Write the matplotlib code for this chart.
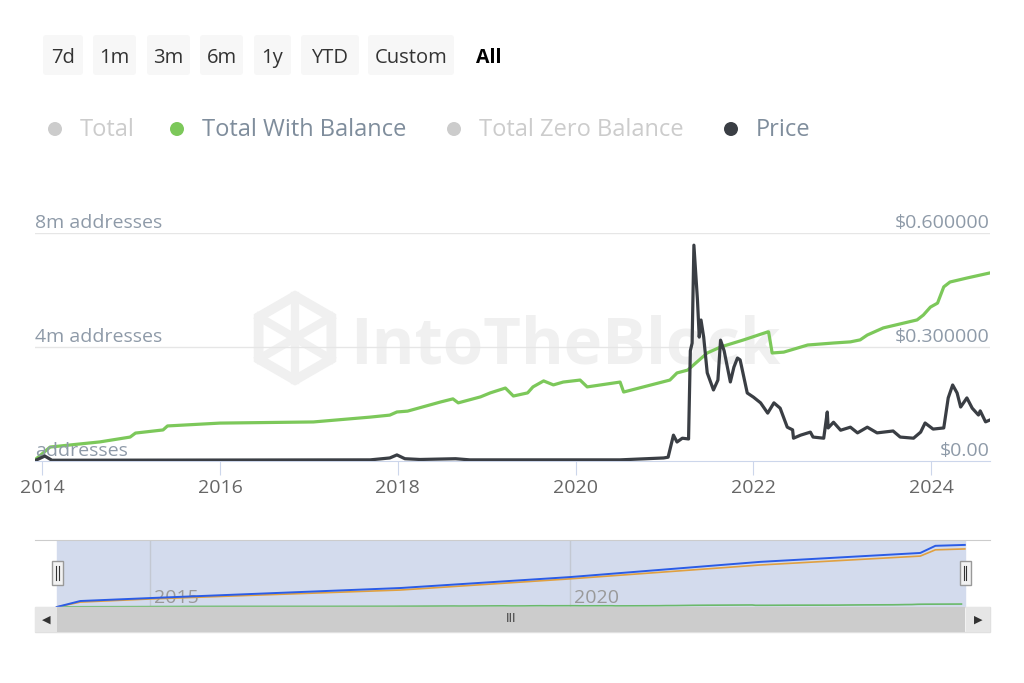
import matplotlib
matplotlib.use("Agg")
import matplotlib.pyplot as plt
from matplotlib.patches import FancyBboxPatch, Rectangle, RegularPolygon, Circle
from matplotlib.lines import Line2D

plt.rcParams['font.family'] = ['Open Sans', 'DejaVu Sans']

# donnees (annees decimales)
green_years = [2013.92, 2014.09, 2014.65, 2014.99, 2015.05, 2015.36, 2015.41, 2016.00, 2017.05,
               2017.69, 2017.91, 2017.99, 2018.11, 2018.48, 2018.62, 2018.68, 2018.93, 2019.04,
               2019.21, 2019.30, 2019.46, 2019.52, 2019.64, 2019.75, 2019.86, 2020.05, 2020.13,
               2020.50, 2020.54, 2021.06, 2021.14, 2021.26, 2021.48, 2021.63, 2021.89, 2022.16,
               2022.17, 2022.21, 2022.34, 2022.61, 2022.90, 2023.09, 2023.20, 2023.28, 2023.46,
               2023.84, 2023.91, 2023.99, 2024.07, 2024.14, 2024.21, 2024.40, 2024.66]
with_balance = [0.04, 0.49, 0.67, 0.84, 0.98, 1.09, 1.23, 1.33, 1.37,
                1.54, 1.61, 1.72, 1.75, 2.07, 2.18, 2.04, 2.25, 2.39,
                2.56, 2.28, 2.39, 2.60, 2.81, 2.67, 2.77, 2.84, 2.60,
                2.77, 2.42, 2.84, 3.09, 3.19, 3.79, 4.00, 4.25, 4.53,
                4.53, 3.79, 3.82, 4.07, 4.14, 4.18, 4.25, 4.42, 4.67,
                4.95, 5.12, 5.40, 5.54, 6.11, 6.28, 6.42, 6.60]

price_years = [2013.92, 2014.03, 2014.11, 2017.69, 2017.91, 2017.99, 2018.08, 2018.25, 2018.65,
               2018.81, 2020.50, 2020.99, 2021.04, 2021.10, 2021.14, 2021.20, 2021.27, 2021.29,
               2021.31, 2021.33, 2021.37, 2021.39, 2021.41, 2021.44, 2021.48, 2021.55, 2021.60,
               2021.63, 2021.67, 2021.74, 2021.78, 2021.82, 2021.85, 2021.93, 2022.00, 2022.08,
               2022.16, 2022.23, 2022.30, 2022.38, 2022.44, 2022.45, 2022.53, 2022.64, 2022.67,
               2022.79, 2022.83, 2022.84, 2022.90, 2022.98, 2023.09, 2023.17, 2023.28, 2023.39,
               2023.57, 2023.65, 2023.80, 2023.88, 2023.93, 2024.02, 2024.14, 2024.19, 2024.24,
               2024.29, 2024.33, 2024.40, 2024.46, 2024.53, 2024.55, 2024.61, 2024.66]
price = [0.001, 0.013, 0.002, 0.003, 0.008, 0.016, 0.006, 0.004, 0.006,
         0.003, 0.003, 0.008, 0.010, 0.068, 0.050, 0.060, 0.058, 0.290,
         0.310, 0.568, 0.424, 0.326, 0.371, 0.326, 0.232, 0.187, 0.213,
         0.318, 0.290, 0.208, 0.247, 0.271, 0.266, 0.179, 0.168, 0.153,
         0.126, 0.153, 0.139, 0.089, 0.082, 0.060, 0.068, 0.076, 0.063,
         0.060, 0.129, 0.087, 0.102, 0.081, 0.089, 0.074, 0.089, 0.074,
         0.079, 0.063, 0.060, 0.076, 0.100, 0.084, 0.087, 0.166, 0.200,
         0.179, 0.142, 0.166, 0.139, 0.121, 0.132, 0.103, 0.108]

# navigateur (en millions)
nav_years = [2013.89, 2014.17, 2015.0, 2017.98, 2020.0, 2022.26, 2024.17, 2024.35, 2024.70]
nav_total = [0, 13.4, 20, 42.5, 67, 101, 121, 137, 139]
nav_zero = [0, 11, 18, 38, 63, 94, 114, 128, 130]

x_ticks = [2014, 2016, 2018, 2020, 2022, 2024]
left_ticks = [0, 4, 8]
left_labels = ['addresses', '4m addresses', '8m addresses']
right_ticks = [0, 0.3, 0.6]
right_labels = ['$0.00', '$0.300000', '$0.600000']
buttons = ['7d', '1m', '3m', '6m', '1y', 'YTD', 'Custom']
legend_names = ['Total', 'Total With Balance', 'Total Zero Balance', 'Price']
legend_colors = ['#cccccc', '#7cc85a', '#cccccc', '#3a3e44']
legend_text_colors = ['#cccccc', '#7f8d9c', '#cccccc', '#7f8d9c']

W, H = 1024, 683
fig = plt.figure(figsize=(W / 100, H / 100), dpi=100)
px = fig.dpi_scale_trans


def P(x, y):
    return x / 100, (H - y) / 100


def F(x, y):
    return x / W, 1 - y / H


# boutons
bx = [(42, 84), (92, 137), (146, 191), (199, 244), (253, 292), (300, 360), (367, 455)]
for (a, b), lab in zip(bx, buttons):
    fig.add_artist(FancyBboxPatch(P(a + 1, 75), (b - a - 2) / 100, 0.40,
                                  boxstyle='round,pad=0,rounding_size=0.03',
                                  transform=px, fc='#f7f7f7', ec='none'))
    fig.text(*F((a + b) / 2, 58), lab, ha='center', va='center', fontsize=14.5, color='#333333')
fig.text(*F(489, 58), 'All', ha='center', va='center', fontsize=14, color='#000000', fontweight='bold')

# legende
leg_x = [55, 177, 454, 731]
for lx, name, c, tc in zip(leg_x, legend_names, legend_colors, legend_text_colors):
    fig.add_artist(Circle(P(lx, 129), 0.07, transform=px, fc=c, ec='none'))
    fig.text(*F(lx + 25, 130), name, ha='left', va='center', fontsize=17, color=tc)

# graphique principal
ax = fig.add_axes([35 / W, (H - 461) / H, 955 / W, 228 / H])
ax.set_xlim(2013.92, 2024.66)
ax.set_ylim(0, 8)
ax2 = ax.twinx()
ax2.set_ylim(0, 0.6)

# filigrane
ax.text(0.555, 0.5, 'IntoTheBlock', transform=ax.transAxes, ha='center', va='center',
        fontsize=47, fontweight='bold', color='#f0f0f0', zorder=0)
hx, hy = P(295, 338)
fig.add_artist(RegularPolygon((hx, hy), 6, radius=0.42, transform=px, fc='none',
                              ec='#f0f0f0', lw=7, zorder=0))
for d in [(-0.36, 0.21, 0.36, -0.21), (-0.36, -0.21, 0.36, 0.21), (0, 0.42, 0, -0.42)]:
    fig.add_artist(Line2D([hx + d[0], hx + d[2]], [hy + d[1], hy + d[3]], transform=px,
                          color='#f0f0f0', lw=6, zorder=0))

for v in [4, 8]:
    ax.axhline(v, color='#e6e6e6', lw=1, zorder=1)
ax.plot(green_years, with_balance, color='#7cc85a', lw=2.3, zorder=3)
ax2.plot(price_years, price, color='#3a3e44', lw=2.3, zorder=4)

for a in (ax, ax2):
    for s in a.spines.values():
        s.set_visible(False)
    a.set_yticks([])
ax.spines['bottom'].set_visible(True)
ax.spines['bottom'].set_color('#ccd6eb')
ax.set_xticks(x_ticks)
ax.set_xticklabels([str(t) for t in x_ticks], fontsize=14, color='#666666')
ax.tick_params(axis='x', length=10, color='#ccd6eb', pad=3)
ax.patch.set_alpha(0)

for v, lab in zip(left_ticks, left_labels):
    ax.text(0.0, v + 0.04, lab, transform=ax.get_yaxis_transform(), ha='left', va='bottom',
            fontsize=14, color='#8e9aa8', zorder=5)
for v, lab in zip(right_ticks, right_labels):
    ax2.text(1.0, v + 0.003, lab, transform=ax2.get_yaxis_transform(), ha='right', va='bottom',
             fontsize=14, color='#8e9aa8', zorder=5)

# navigateur
nav = fig.add_axes([35 / W, (H - 607) / H, 955 / W, 67 / H])
nav.set_xlim(2013.631, 2025.0)
nav.set_ylim(0, 150)
nav.axvspan(2013.89, 2024.70, color='#d3dbed', zorder=0)
for yr in [2015, 2020]:
    nav.axvline(yr, color='#c3c8d2', lw=1, zorder=1)
    nav.text(yr + 0.05, 1, str(yr), fontsize=14, color='#999999', ha='left', va='bottom', zorder=2)
nav.plot(nav_years, nav_zero, color='#e0a040', lw=1.2, zorder=3)
nav.plot(nav_years, nav_total, color='#2b5ce6', lw=1.4, zorder=4)
nav.plot(green_years, with_balance, color='#6ab96a', lw=1.2, zorder=3)
nav.set_xticks([])
nav.set_yticks([])
for s in nav.spines.values():
    s.set_visible(False)
nav.spines['top'].set_visible(True)
nav.spines['top'].set_color('#cccccc')

# poignees
for hxp in [57, 965]:
    fig.add_artist(Rectangle(P(hxp - 5, 585), 0.11, 0.24, transform=px, fc='#f2f2f2',
                             ec='#999999', lw=1, zorder=6))
    for dx in [-1.5, 1.5]:
        fig.add_artist(Line2D([(hxp + dx) / 100] * 2, [(H - 580) / 100, (H - 566) / 100],
                              transform=px, color='#333333', lw=0.8, zorder=7))

# barre de defilement
fig.add_artist(Rectangle(P(35, 632), 955 / 100, 0.25, transform=px, fc='#f2f2f2', ec='#e0e0e0', lw=1))
fig.add_artist(Rectangle(P(57, 632), 908 / 100, 0.25, transform=px, fc='#cccccc', ec='none'))
fig.add_artist(Rectangle(P(35, 632), 22 / 100, 0.25, transform=px, fc='#e6e6e6', ec='none'))
fig.add_artist(Rectangle(P(966, 632), 24 / 100, 0.25, transform=px, fc='#e6e6e6', ec='none'))
fig.text(*F(46, 620), '◀', ha='center', va='center', fontsize=8, color='#333333')
fig.text(*F(978, 620), '▶', ha='center', va='center', fontsize=8, color='#333333')
fig.text(*F(511, 619), 'III', ha='center', va='center', fontsize=9, color='#333333')

fig.savefig('out.png', dpi=100)
